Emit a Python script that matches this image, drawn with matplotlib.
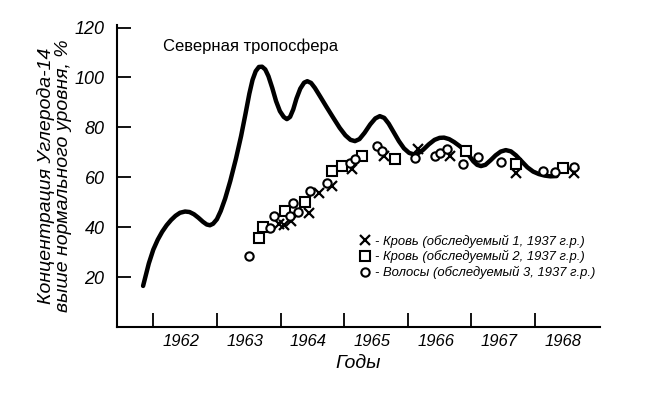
import matplotlib
matplotlib.use("Agg")
import matplotlib.pyplot as plt
from matplotlib.ticker import FixedLocator, NullFormatter

plt.rcParams['font.family'] = ['Liberation Sans', 'DejaVu Sans']

# кривая: северная тропосфера
curve_year = [1961.84, 1961.88, 1961.93, 1962.0, 1962.07, 1962.14, 1962.21, 1962.28, 1962.35, 1962.42,
              1962.5, 1962.57, 1962.64, 1962.71, 1962.78, 1962.84, 1962.89, 1962.94, 1963.0, 1963.06,
              1963.13, 1963.21, 1963.3, 1963.38, 1963.45, 1963.51, 1963.56, 1963.61, 1963.66, 1963.71,
              1963.76, 1963.81, 1963.87, 1963.93, 1963.99, 1964.05, 1964.1, 1964.15, 1964.2, 1964.25,
              1964.31, 1964.37, 1964.42, 1964.48, 1964.54, 1964.62, 1964.72, 1964.83, 1964.93, 1965.02,
              1965.1, 1965.17, 1965.24, 1965.32, 1965.41, 1965.49, 1965.56, 1965.63, 1965.7, 1965.78,
              1965.86, 1965.94, 1966.02, 1966.09, 1966.16, 1966.24, 1966.33, 1966.42, 1966.5, 1966.57,
              1966.65, 1966.73, 1966.81, 1966.89, 1966.96, 1967.03, 1967.09, 1967.15, 1967.22, 1967.3,
              1967.38, 1967.46, 1967.54, 1967.62, 1967.7, 1967.79, 1967.88, 1967.97, 1968.06, 1968.15,
              1968.24, 1968.34]
curve_val = [16.5, 20.5, 25.5, 31, 35, 38.2, 40.8, 42.9, 44.6, 45.8,
             46.3, 46.1, 45.2, 43.8, 42.2, 41.1, 40.8, 41.4, 43.2, 46.5,
             51.5, 58.5, 67.5, 76.5, 85.5, 93.5, 99, 102.5, 104.2, 104.3,
             103.2, 100.5, 95.8, 90.5, 86.5, 84.2, 83.3, 84.2, 87.2, 91.5,
             95.5, 97.9, 98.5, 97.8, 95.8, 92.5, 88.3, 83.8, 79.8, 76.8,
             75, 74.5, 75.3, 77.8, 81.2, 83.6, 84.5, 83.8, 81.5, 78,
             74.5, 71.6, 69.8, 69.2, 69.6, 71, 73.2, 75, 75.8, 75.9,
             75.3, 74.1, 72.6, 71, 68.8, 66.4, 65, 64.5, 65, 66.8,
             68.8, 70.3, 70.9, 70.4, 68.8, 66.4, 64, 62.3, 61.3, 60.7,
             60.4, 60.5]

# Кровь, обследуемый 1
x1_year = [1963.97, 1964.05, 1964.16, 1964.44, 1964.6, 1964.81, 1965.12, 1965.62, 1966.16, 1966.66, 1967.7, 1968.62]
x1_val = [41.2, 40.8, 42.5, 45.6, 53.9, 56.5, 63.2, 68.5, 71.2, 68.5, 61.9, 61.9]

# Кровь, обследуемый 2
x2_year = [1963.66, 1963.73, 1964.07, 1964.38, 1964.81, 1964.96, 1965.28, 1965.8, 1966.92, 1967.7, 1968.44]
x2_val = [35.5, 40.3, 46.5, 50.3, 62.5, 64.5, 68.5, 67.2, 70.5, 65.2, 63.9]

# Волосы, обследуемый 3
x3_year = [1963.5, 1963.83, 1963.89, 1964.15, 1964.2, 1964.28, 1964.46, 1964.73, 1965.09, 1965.17,
           1965.51, 1965.59, 1966.11, 1966.43, 1966.51, 1966.61, 1966.87, 1967.11, 1967.47, 1968.13,
           1968.31, 1968.62]
x3_val = [28.3, 39.9, 44.5, 44.5, 49.6, 46.1, 54.5, 57.9, 65.6, 67.2,
          72.5, 70.5, 67.9, 68.5, 69.9, 71.2, 65.2, 68.3, 66.1, 62.5,
          62.1, 64.0]

years = [1962, 1963, 1964, 1965, 1966, 1967, 1968]
labels = ["- Кровь (обследуемый 1, 1937 г.р.)",
          "- Кровь (обследуемый 2, 1937 г.р.)",
          "- Волосы (обследуемый 3, 1937 г.р.)"]

fig = plt.figure(figsize=(6.5, 3.97), dpi=100)
ax = fig.add_axes([0.18, 0.176, 0.743, 0.761])

ax.plot(curve_year, curve_val, color='black', lw=3.2, solid_capstyle='round',
        solid_joinstyle='round', zorder=3)
h1, = ax.plot(x1_year, x1_val, ls='none', marker='x', ms=7, mew=1.6, color='black', zorder=4)
h2, = ax.plot(x2_year, x2_val, ls='none', marker='s', ms=6.5, mew=1.5, mfc='white', mec='black', zorder=4)
h3, = ax.plot(x3_year, x3_val, ls='none', marker='o', ms=6, mew=1.5, mfc='white', mec='black', zorder=4)

ax.set_xlim(1961.43, 1969.02)
ax.set_ylim(0, 121)
for s in ['top', 'right']:
    ax.spines[s].set_visible(False)
for s in ['left', 'bottom']:
    ax.spines[s].set_linewidth(1.5)

ax.xaxis.set_major_locator(FixedLocator(years))
ax.xaxis.set_major_formatter(NullFormatter())
ax.xaxis.set_minor_locator(FixedLocator([y + 0.44 for y in years]))
ax.set_xticklabels([str(y) for y in years], minor=True, style='italic', fontsize=12)
ax.tick_params(axis='x', which='major', direction='in', length=10, width=1.3)
ax.tick_params(axis='x', which='minor', length=0, pad=5)

ax.set_yticks([20, 40, 60, 80, 100, 120])
ax.set_yticklabels(['20', '40', '60', '80', '100', '120'], style='italic', fontsize=13)
ax.tick_params(axis='y', direction='in', length=10, width=1.3, pad=9)

ax.set_xlabel("Годы", style='italic', fontsize=14, labelpad=4)
ax.set_ylabel("Концентрация Углерода-14\nвыше нормального уровня, %", style='italic',
              fontsize=14, linespacing=0.95, labelpad=2)

ax.text(0.095, 0.93, "Северная тропосфера", transform=ax.transAxes, fontsize=12, va='center')

fig.legend([h1, h2, h3], labels, loc='center left', bbox_to_anchor=(0.553, 0.353),
           frameon=False, borderpad=0, borderaxespad=0, handlelength=0.8, handletextpad=0.4,
           labelspacing=0.2, prop={'style': 'italic', 'size': 9.4})

fig.savefig("out.png", dpi=100)
